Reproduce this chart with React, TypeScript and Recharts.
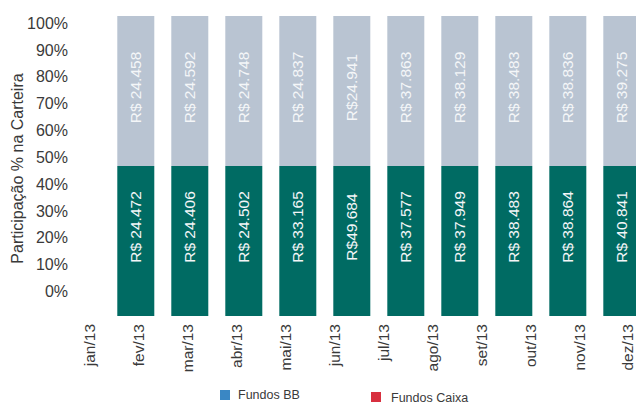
import React from 'react';
import {
  ComposedChart,
  Bar,
  XAxis,
  YAxis,
  LabelList
} from 'recharts';

// --- data ---

const MONTHS = [
  'jan/13', 'fev/13', 'mar/13', 'abr/13', 'mai/13', 'jun/13',
  'jul/13', 'ago/13', 'set/13', 'out/13', 'nov/13', 'dez/13'
];

// meses que têm barra (índice em MONTHS)
const BAR_MONTHS = [1, 2, 3, 4, 5, 6, 7, 8, 9, 10];

// valores (R$) escritos dentro das barras
const BB_VALUES = [24472, 24406, 24502, 33165, 49684, 37577, 37949, 38483, 38864, 40841];
const CAIXA_VALUES = [24458, 24592, 24748, 24837, 24941, 37863, 38129, 38483, 38836, 39275];

// participação % como aparece desenhada (todas as barras divididas ao meio)
const BB_SHARE = [50, 50, 50, 50, 50, 50, 50, 50, 50, 50];
const CAIXA_SHARE = [50, 50, 50, 50, 50, 50, 50, 50, 50, 50];

// rótulos impressos sem espaço depois de "R$"
const TIGHT_LABELS = [4];

const Y_TICKS = [0, 10, 20, 30, 40, 50, 60, 70, 80, 90, 100];

const LEGEND = [
  { name: 'Fundos BB', color: '#3a87c4' },
  { name: 'Fundos Caixa', color: '#d8303f' }
];

const TEAL = '#006b63';
const GREY = '#b9c4d2';
const INK = '#3a3a3a';
const FONT = '"Liberation Sans", Arial, sans-serif';

const fmt = (v: number, b: number) => {
  const s = v.toLocaleString('pt-BR');
  return TIGHT_LABELS.includes(b) ? `R$${s}` : `R$ ${s}`;
};

const rows = MONTHS.map((m, mi) => {
  const b = BAR_MONTHS.indexOf(mi);
  const has = b >= 0;
  return {
    month: m,
    mi,
    bbShare: has ? BB_SHARE[b] : null,
    caixaShare: has ? CAIXA_SHARE[b] : null,
    bbText: has ? fmt(BB_VALUES[b], b) : '',
    caixaText: has ? fmt(CAIXA_VALUES[b], b) : ''
  };
});

// rótulo vertical dentro de cada segmento
const makeLabel = (shift: number) => (props: any) => {
  const { x, y, width, height, value } = props;
  if (!value || !height) return null;
  const cx = x + width / 2;
  const cy = y + height / 2 + shift;
  return (
    <text
      x={cx}
      y={cy}
      dy="0.35em"
      textAnchor="middle"
      fill="#f4f6f8"
      fontSize={15.5}
      transform={`rotate(-90 ${cx} ${cy})`}
    >
      {value}
    </text>
  );
};

const MonthTick = (props: any) => {
  const { x, y, payload } = props;
  const ty = y + 8;
  return (
    <text
      x={x}
      y={ty}
      dy="0.35em"
      textAnchor="end"
      fill={INK}
      fontSize={15.5}
      transform={`rotate(-90 ${x} ${ty})`}
    >
      {payload.value}
    </text>
  );
};

export default function App() {
  return (
    <div style={{ position: 'absolute', left: 0, top: 0, width: 636, height: 404, fontFamily: FONT, background: '#fff', overflow: 'hidden' }}>
      <ComposedChart
        width={636}
        height={404}
        data={rows}
        margin={{ top: 16, right: 0, bottom: 28, left: 0 }}
      >
        {/* eixo das barras (escondido) */}
        <XAxis xAxisId="bars" type="number" dataKey="mi" domain={[-0.098, 10.272]} allowDataOverflow hide height={0} />
        <YAxis yAxisId="bars" type="number" domain={[0, 100]} allowDataOverflow hide width={0} />

        {/* eixo dos meses */}
        <XAxis
          xAxisId="months"
          dataKey="month"
          type="category"
          scale="point"
          padding={{ left: 14, right: 8 }}
          interval={0}
          axisLine={false}
          tickLine={false}
          tickSize={0}
          tickMargin={0}
          height={60}
          tick={<MonthTick />}
        />

        {/* eixo de percentuais */}
        <YAxis
          yAxisId="pct"
          type="number"
          domain={[-9.125, 102.6]}
          allowDataOverflow
          ticks={Y_TICKS}
          interval={0}
          width={76}
          axisLine={false}
          tickLine={false}
          tickSize={0}
          tickMargin={8}
          tickFormatter={(v: number) => `${v}%`}
          tick={{ fill: INK, fontSize: 16 }}
          label={({ viewBox }: any) => {
            const tx = viewBox.x + 17;
            const ty = viewBox.y + viewBox.height / 2 + 2.5;
            return (
              <text
                x={tx}
                y={ty}
                dy="0.35em"
                textAnchor="middle"
                fill={INK}
                fontSize={16}
                transform={`rotate(-90 ${tx} ${ty})`}
              >
                Participação % na Carteira
              </text>
            );
          }}
        />

        <Bar xAxisId="bars" yAxisId="bars" dataKey="bbShare" stackId="a" fill={TEAL} barSize={37} isAnimationActive={false}>
          <LabelList dataKey="bbText" content={makeLabel(-14)} />
        </Bar>
        <Bar xAxisId="bars" yAxisId="bars" dataKey="caixaShare" stackId="a" fill={GREY} barSize={37} isAnimationActive={false}>
          <LabelList dataKey="caixaText" content={makeLabel(-3.5)} />
        </Bar>
      </ComposedChart>

      {/* legenda */}
      {LEGEND.map((l, i) => (
        <div key={l.name} style={{ position: 'absolute', left: i === 0 ? 220 : 371, top: 388, display: 'flex', alignItems: 'center', fontSize: 12.5, lineHeight: '14px', color: INK, whiteSpace: 'nowrap' }}>
          <span style={{ display: 'inline-block', width: 10, height: 10, background: l.color, marginRight: i === 0 ? 8 : 10 }} />
          <span style={{ marginTop: i === 0 ? 0 : 3 }}>{l.name}</span>
        </div>
      ))}
    </div>
  );
}
